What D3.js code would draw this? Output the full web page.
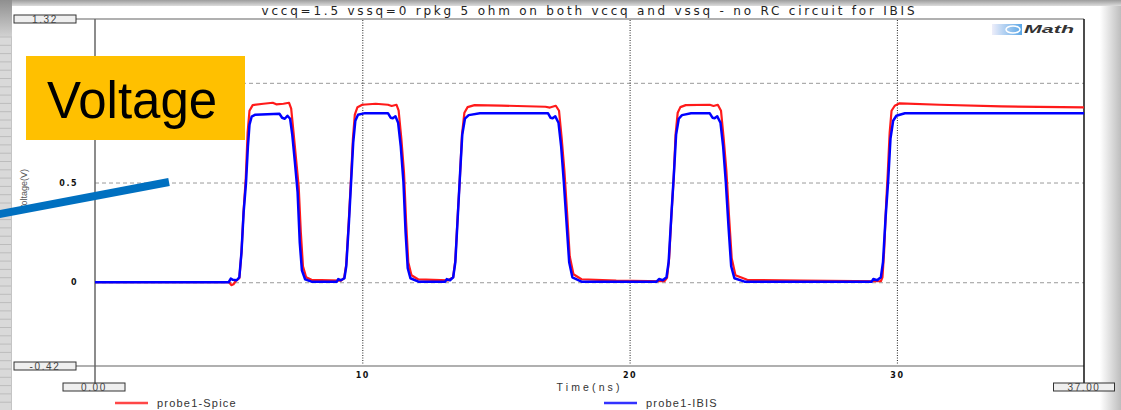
<!DOCTYPE html>
<html>
<head>
<meta charset="utf-8">
<script src="https://cdn.jsdelivr.net/npm/d3@7"></script>
<style>
  html, body { margin: 0; padding: 0; background: #fff; }
  svg { display: block; font-family: "Liberation Sans", Arial, sans-serif; }
</style>
</head>
<body>
<svg width="1121" height="410"></svg>
<script>
const svg = d3.select("svg");
const width = +svg.attr("width");
const height = +svg.attr("height");

// chart text
const chartTitle = "vccq=1.5 vssq=0 rpkg 5 ohm on both vccq and vssq - no RC circuit for IBIS";
const xTitle = "Time(ns)";
const yTitle = "Voltage(V)";
const seriesNames = ["probe1-Spice", "probe1-IBIS"];
const seriesColors = ["#ff1a1a", "#0000ff"];

// axis ranges and ticks
const xDomain = [0, 37];
const yDomain = [-0.42, 1.32];
const xTicks = [10, 20, 30];
const yGrid = [0, 0.5, 1];
const yTickLabels = [0, 0.5]; // the "1" label sits under the yellow box
const xEndLabels = ["0.00", "37.00"];
const yEndLabels = ["1.32", "-0.42"];

// waveforms [time ns, volts]
const spicePoints = [
  [0,0],[5.02,0],[5.1,-0.015],[5.18,-0.01],[5.26,0.005],[5.4,0.02],[5.48,0.15],[5.56,0.36],[5.64,0.52],
  [5.71,0.75],[5.78,0.86],[5.9,0.888],[6.3,0.895],[6.65,0.9],[6.78,0.892],[7.05,0.895],[7.26,0.9],
  [7.34,0.87],[7.42,0.76],[7.52,0.62],[7.62,0.48],[7.7,0.25],[7.78,0.08],[7.9,0.025],[8.1,0.012],
  [9.2,0.008],[9.32,0.02],[9.4,0.09],[9.5,0.32],[9.57,0.5],[9.65,0.72],[9.72,0.84],[9.82,0.878],
  [10.0,0.89],[10.5,0.895],[10.96,0.89],[11.1,0.884],[11.28,0.89],[11.36,0.86],[11.46,0.72],[11.56,0.55],
  [11.64,0.3],[11.72,0.1],[11.84,0.035],[12.1,0.014],[13.2,0.009],[13.4,0.025],[13.48,0.11],[13.58,0.36],
  [13.65,0.52],[13.73,0.74],[13.82,0.85],[13.94,0.878],[14.2,0.888],[15.2,0.886],[16.85,0.88],[17.02,0.876],
  [17.24,0.885],[17.36,0.86],[17.46,0.72],[17.56,0.56],[17.66,0.35],[17.76,0.13],[17.9,0.04],[18.2,0.015],
  [19.5,0.008],[21.3,0.005],[21.4,0.022],[21.48,0.12],[21.57,0.35],[21.65,0.52],[21.72,0.74],[21.8,0.85],
  [21.9,0.878],[22.1,0.888],[23.0,0.89],[23.14,0.884],[23.3,0.89],[23.42,0.86],[23.52,0.72],[23.62,0.56],
  [23.72,0.33],[23.82,0.12],[23.96,0.035],[24.4,0.012],[26.5,0.008],[29.4,0.005],[29.46,0.025],[29.52,0.15],
  [29.6,0.4],[29.66,0.55],[29.73,0.75],[29.8,0.86],[29.92,0.885],[30.1,0.897],[31.6,0.89],[33.9,0.882],[37,0.877]
];
const ibisPoints = [
  [0,0],[5.0,0],[5.08,0.018],[5.16,0.012],[5.3,0.01],[5.4,0.025],[5.48,0.15],[5.56,0.35],[5.65,0.5],
  [5.72,0.68],[5.78,0.79],[5.86,0.83],[6.0,0.84],[6.9,0.845],[7.0,0.825],[7.1,0.82],[7.2,0.835],[7.3,0.82],
  [7.38,0.74],[7.48,0.6],[7.58,0.45],[7.66,0.2],[7.74,0.06],[7.86,0.015],[8.1,0.003],[9.05,0.003],[9.1,0.016],
  [9.2,0.01],[9.33,0.02],[9.4,0.08],[9.5,0.3],[9.58,0.5],[9.66,0.7],[9.74,0.81],[9.84,0.84],[10.1,0.848],
  [10.96,0.848],[11.06,0.825],[11.14,0.822],[11.24,0.832],[11.34,0.8],[11.44,0.68],[11.54,0.5],[11.62,0.25],
  [11.7,0.07],[11.8,0.02],[12.1,0.003],[13.1,0.003],[13.16,0.016],[13.28,0.01],[13.4,0.025],[13.48,0.1],
  [13.58,0.35],[13.66,0.55],[13.74,0.74],[13.84,0.82],[13.98,0.838],[14.4,0.847],[16.95,0.847],[17.04,0.825],
  [17.12,0.822],[17.22,0.832],[17.34,0.8],[17.44,0.68],[17.54,0.5],[17.64,0.3],[17.74,0.1],[17.86,0.025],
  [18.2,0.003],[21.0,0.002],[21.1,0.016],[21.24,0.01],[21.38,0.025],[21.46,0.1],[21.56,0.33],[21.66,0.55],
  [21.74,0.74],[21.84,0.82],[21.96,0.838],[22.3,0.847],[23.0,0.847],[23.1,0.825],[23.18,0.822],[23.28,0.832],
  [23.4,0.8],[23.5,0.68],[23.6,0.5],[23.7,0.28],[23.8,0.08],[23.92,0.02],[24.3,0.003],[29.05,0.002],
  [29.12,0.016],[29.26,0.01],[29.4,0.025],[29.48,0.1],[29.58,0.33],[29.67,0.5],[29.76,0.72],[29.86,0.81],
  [29.98,0.835],[30.3,0.847],[37,0.847]
];

// plot box
const plot = { left: 95, right: 1084, top: 19, bottom: 366 };

const x = d3.scaleLinear().domain(xDomain).range([plot.left, plot.right]);
const y = d3.scaleLinear().domain(yDomain).range([plot.bottom, plot.top]);

// --- slide background / shadows ---
const defs = svg.append("defs");
const gTop = defs.append("linearGradient").attr("id", "gTop").attr("x1", 0).attr("x2", 0).attr("y1", 0).attr("y2", 1);
gTop.append("stop").attr("offset", 0).attr("stop-color", "#9c9c9c");
gTop.append("stop").attr("offset", 1).attr("stop-color", "#dcdcdc");
const gRight = defs.append("linearGradient").attr("id", "gRight");
gRight.append("stop").attr("offset", 0).attr("stop-color", "#ffffff");
gRight.append("stop").attr("offset", 1).attr("stop-color", "#bdbdbd");
const gCorner = defs.append("linearGradient").attr("id", "gCorner").attr("x1", 0).attr("x2", 0).attr("y1", 0).attr("y2", 1);
gCorner.append("stop").attr("offset", 0).attr("stop-color", "#8f8f8f");
gCorner.append("stop").attr("offset", 1).attr("stop-color", "#d2d2d2");
const gLogo = defs.append("linearGradient").attr("id", "gLogo");
gLogo.append("stop").attr("offset", 0).attr("stop-color", "#eeeefa");
gLogo.append("stop").attr("offset", 1).attr("stop-color", "#5aa6e6");

svg.append("rect").attr("width", width).attr("height", height).attr("fill", "#fff");
svg.append("rect").attr("x", 1100).attr("y", 0).attr("width", 21).attr("height", height).attr("fill", "url(#gRight)");
svg.append("rect").attr("width", width).attr("height", 6).attr("fill", "url(#gTop)");
svg.append("rect").attr("width", 12).attr("height", 37).attr("fill", "url(#gCorner)");

// left spreadsheet strip
const strip = svg.append("g");
strip.append("rect").attr("x", 0).attr("y", 37).attr("width", 12).attr("height", height - 37).attr("fill", "#d9d9d9");
strip.selectAll("line")
  .data(d3.range(37, height, 8.3))
  .join("line")
  .attr("x1", 0).attr("x2", 12)
  .attr("y1", d => d).attr("y2", d => d)
  .attr("stroke", "#bcbcbc").attr("stroke-width", 1);
strip.append("line").attr("x1", 11.5).attr("x2", 11.5).attr("y1", 37).attr("y2", height)
  .attr("stroke", "#c4c4c4");

// --- grid ---
svg.append("g")
  .attr("transform", `translate(${plot.left},0)`)
  .call(d3.axisLeft(y).tickValues(yGrid).tickSize(-(plot.right - plot.left)).tickFormat(""))
  .call(g => g.select(".domain").remove())
  .call(g => g.selectAll("line").attr("stroke", "#9a9a9a").attr("stroke-dasharray", "4,3"));

svg.append("g")
  .attr("transform", `translate(0,${plot.bottom})`)
  .call(d3.axisBottom(x).tickValues(xTicks).tickSize(-(plot.bottom - plot.top)).tickFormat(""))
  .call(g => g.select(".domain").remove())
  .call(g => g.selectAll("line").attr("stroke", "#222").attr("stroke-dasharray", "1,1.5"));

// --- frame lines ---
svg.append("line").attr("x1", 76).attr("x2", plot.right).attr("y1", plot.top).attr("y2", plot.top)
  .attr("stroke", "#b0b0b0").attr("stroke-width", 2);
svg.append("line").attr("x1", 76).attr("x2", plot.right).attr("y1", plot.bottom).attr("y2", plot.bottom)
  .attr("stroke", "#b0b0b0").attr("stroke-width", 2);
svg.append("line").attr("x1", plot.left).attr("x2", plot.left).attr("y1", plot.top).attr("y2", 383)
  .attr("stroke", "#666").attr("stroke-width", 1.5);
svg.append("line").attr("x1", plot.right).attr("x2", plot.right).attr("y1", plot.top).attr("y2", 383)
  .attr("stroke", "#111").attr("stroke-width", 1.5);

// --- tick labels ---
svg.append("g")
  .attr("transform", `translate(${plot.left - 17},0)`)
  .call(d3.axisLeft(y).tickValues(yTickLabels).tickSize(0).tickPadding(0).tickFormat(d => d))
  .call(g => g.select(".domain").remove())
  .call(g => g.selectAll("text")
    .attr("font-family", "'DejaVu Sans', sans-serif")
    .attr("font-size", 8).attr("font-weight", "bold")
    .attr("letter-spacing", 1.5).attr("fill", "#111"));

svg.append("g")
  .attr("transform", `translate(0,${plot.bottom + 6})`)
  .call(d3.axisBottom(x).tickValues(xTicks).tickSize(0).tickPadding(0).tickFormat(d => d))
  .call(g => g.select(".domain").remove())
  .call(g => g.selectAll("text")
    .attr("font-family", "'DejaVu Sans', sans-serif")
    .attr("font-size", 8).attr("font-weight", "bold")
    .attr("letter-spacing", 1.5).attr("fill", "#111"));

// end-value boxes
function endBox(cx, cy, w, label) {
  const g = svg.append("g");
  g.append("rect").attr("x", cx - w / 2).attr("y", cy - 4).attr("width", w).attr("height", 8)
    .attr("fill", "#efefef").attr("stroke", "#333").attr("stroke-width", 1);
  g.append("text").attr("x", cx).attr("y", cy + 4).attr("text-anchor", "middle")
    .attr("font-size", 10).attr("letter-spacing", 1.6).attr("fill", "#444").text(label);
}
endBox(45, y(yDomain[1]), 62, yEndLabels[0]);
endBox(45, y(yDomain[0]), 62, yEndLabels[1]);
endBox(x(xDomain[0]) - 1, 387, 62, xEndLabels[0]);
endBox(x(xDomain[1]) + 0, 387, 61, xEndLabels[1]);

// --- waveforms ---
const line = d3.line().x(d => x(d[0])).y(d => y(d[1]));
svg.append("path").datum(spicePoints)
  .attr("d", line).attr("fill", "none")
  .attr("stroke", seriesColors[0]).attr("stroke-width", 2.2).attr("stroke-linejoin", "round");
svg.append("path").datum(ibisPoints)
  .attr("d", line).attr("fill", "none")
  .attr("stroke", seriesColors[1]).attr("stroke-width", 2.5).attr("stroke-linejoin", "round");

// --- titles ---
svg.append("text").attr("x", 588).attr("y", 15).attr("text-anchor", "middle")
  .attr("font-family", "'DejaVu Sans', sans-serif")
  .attr("font-size", 12).attr("fill", "#222")
  .attr("textLength", 653).attr("lengthAdjust", "spacing").text(chartTitle);

svg.append("text").attr("x", 588).attr("y", 391).attr("text-anchor", "middle")
  .attr("font-size", 10.5).attr("fill", "#333")
  .attr("textLength", 63).attr("lengthAdjust", "spacing").text(xTitle);

svg.append("text").attr("transform", "translate(27,190) rotate(-90)").attr("text-anchor", "middle")
  .attr("font-size", 9).attr("fill", "#555").text(yTitle);

// legend
const legendX = [115, 604];
seriesNames.forEach((name, i) => {
  svg.append("line").attr("x1", legendX[i]).attr("x2", legendX[i] + 33).attr("y1", 403).attr("y2", 403)
    .attr("stroke", seriesColors[i]).attr("stroke-width", 2.5).attr("opacity", 0.8);
  svg.append("text").attr("x", legendX[i] + 42).attr("y", 407)
    .attr("font-size", 11).attr("fill", "#333").attr("letter-spacing", 1.2).text(name);
});

// logo
const logo = svg.append("g").attr("transform", "translate(992,24)");
logo.append("rect").attr("width", 30).attr("height", 11).attr("fill", "url(#gLogo)");
logo.append("ellipse").attr("cx", 21).attr("cy", 5.5).attr("rx", 7).attr("ry", 3.5)
  .attr("fill", "none").attr("stroke", "#fff").attr("stroke-width", 1.5);
logo.append("text").attr("x", 32).attr("y", 9).attr("font-size", 10).attr("font-weight", "bold")
  .attr("font-style", "italic").attr("fill", "#333")
  .attr("textLength", 50).attr("lengthAdjust", "spacingAndGlyphs").text("Math");

// --- slide annotations ---
svg.append("line").attr("x1", -2).attr("y1", 214.4).attr("x2", 169).attr("y2", 182)
  .attr("stroke", "#0070c0").attr("stroke-width", 8);

svg.append("rect").attr("x", 26).attr("y", 56).attr("width", 219).attr("height", 84).attr("fill", "#ffc000");
svg.append("text").attr("x", 47).attr("y", 118).attr("font-size", 51).attr("fill", "#000").text("Voltage");
</script>
</body>
</html>
